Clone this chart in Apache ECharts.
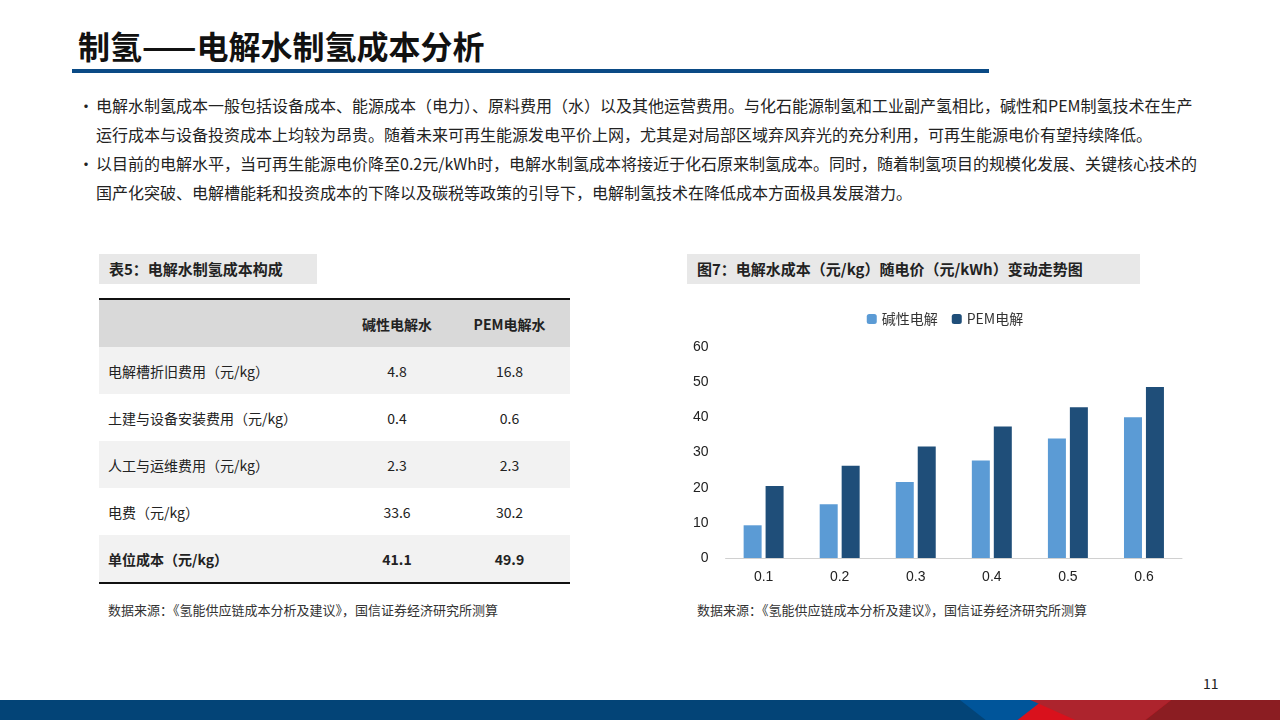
<!DOCTYPE html>
<html><head><meta charset="utf-8">
<script src="https://cdn.jsdelivr.net/npm/echarts@6/dist/echarts.min.js"></script>
<style>
body{margin:0;width:1280px;height:720px;position:relative;overflow:hidden;background:#fff;font-family:"Noto Sans CJK SC","Noto Sans",sans-serif;color:#222}
.abs{position:absolute}
h1{position:absolute;left:78px;top:22px;margin:0;font-size:32px;font-weight:bold;color:#111;letter-spacing:0}
.bul{left:78px;width:1130px;font-size:16px;line-height:29px;color:#222}
.bul div{padding-left:18px;position:relative}
.bul div span{position:absolute;left:0}
.cap{background:#e8e8e8;font-weight:bold;font-size:15px;height:30px;line-height:30px;padding-left:10px}
table{border-collapse:collapse;font-size:14px}
td{height:47px;padding:0}
.src{font-size:13px;color:#333}
</style></head><body>
<h1>制氢——电解水制氢成本分析</h1>
<div class="abs" style="left:72px;top:69px;width:917px;height:4px;background:#0a4a85"></div>
<div class="abs bul" style="top:91px">
<div><span>•</span>电解水制氢成本一般包括设备成本、能源成本（电力）、原料费用（水）以及其他运营费用。与化石能源制氢和工业副产氢相比，碱性和PEM制氢技术在生产运行成本与设备投资成本上均较为昂贵。随着未来可再生能源发电平价上网，尤其是对局部区域弃风弃光的充分利用，可再生能源电价有望持续降低。</div>
<div><span>•</span>以目前的电解水平，当可再生能源电价降至0.2元/kWh时，电解水制氢成本将接近于化石原来制氢成本。同时，随着制氢项目的规模化发展、关键核心技术的国产化突破、电解槽能耗和投资成本的下降以及碳税等政策的引导下，电解制氢技术在降低成本方面极具发展潜力。</div>
</div>
<div class="abs cap" style="left:99px;top:254px;width:208px">表5：电解水制氢成本构成</div>
<table class="abs" style="left:99px;top:298px;width:471px">
<tr style="background:#d9d9d9;border-top:2px solid #111;font-weight:bold"><td style="width:246px"></td><td style="text-align:center;width:104px">碱性电解水</td><td style="text-align:center">PEM电解水</td></tr>
<tr style="background:#f2f2f2"><td style="padding-left:9px">电解槽折旧费用（元/kg）</td><td align="center">4.8</td><td align="center">16.8</td></tr>
<tr><td style="padding-left:9px">土建与设备安装费用（元/kg）</td><td align="center">0.4</td><td align="center">0.6</td></tr>
<tr style="background:#f2f2f2"><td style="padding-left:9px">人工与运维费用（元/kg）</td><td align="center">2.3</td><td align="center">2.3</td></tr>
<tr><td style="padding-left:9px">电费（元/kg）</td><td align="center">33.6</td><td align="center">30.2</td></tr>
<tr style="background:#f2f2f2;font-weight:bold;border-bottom:2px solid #111"><td style="padding-left:9px">单位成本（元/kg）</td><td align="center">41.1</td><td align="center">49.9</td></tr>
</table>
<div class="abs src" style="left:108px;top:600px">数据来源：《氢能供应链成本分析及建议》，国信证券经济研究所测算</div>
<div class="abs cap" style="left:687px;top:254px;width:443px">图7：电解水成本（元/kg）随电价（元/kWh）变动走势图</div>
<div id="chart" class="abs" style="left:690px;top:298px;width:510px;height:302px"></div>
<div class="abs src" style="left:697px;top:600px">数据来源：《氢能供应链成本分析及建议》，国信证券经济研究所测算</div>
<div class="abs" style="left:1203px;top:673px;font-size:14px">11</div>
<div class="abs" style="left:0;top:700px;width:1280px;height:20px;background:#034477"></div>
<div class="abs" style="left:0;top:700px;width:1280px;height:20px;background:#00559a;clip-path:polygon(75% 0,97% 0,97% 100%,77% 100%)"></div>
<div class="abs" style="left:0;top:700px;width:1280px;height:20px;background:#0068b7;clip-path:polygon(84% 0,97% 0,97% 100%,86% 100%)"></div>
<div class="abs" style="left:0;top:700px;width:1280px;height:20px;background:#d9111c;clip-path:polygon(79.5% 100%,81.5% 0,100% 0,100% 100%)"></div>
<div class="abs" style="left:0;top:700px;width:1280px;height:20px;background:#ad242d;clip-path:polygon(80.5% 0,91.5% 0,89.5% 100%,84% 100%)"></div>
<div class="abs" style="left:0;top:700px;width:1280px;height:20px;background:#8b1d22;clip-path:polygon(91.5% 0,100% 0,100% 100%,89.5% 100%)"></div>
<script>
const categories = ['0.1', '0.2', '0.3', '0.4', '0.5', '0.6'];
const alkaline = [9.3, 15.3, 21.6, 27.7, 34.0, 40.0];
const pem = [20.5, 26.2, 31.7, 37.4, 42.9, 48.6];

const chart = echarts.init(document.getElementById('chart'));
chart.setOption({
  animation: false,
  textStyle: { fontFamily: 'Liberation Sans, Noto Sans CJK SC', color: '#222' },
  legend: {
    top: 9, left: 'center', itemWidth: 10, itemHeight: 10, itemGap: 14,
    textStyle: { fontSize: 14, color: '#333', fontFamily: 'Noto Sans CJK SC' },
    data: ['碱性电解', 'PEM电解']
  },
  grid: { left: 33, right: 18, top: 49, bottom: 42 },
  xAxis: {
    type: 'category', data: categories,
    axisLine: { lineStyle: { color: '#d0d0d0' } },
    axisTick: { show: false },
    axisLabel: { fontSize: 14, color: '#222', margin: 12 }
  },
  yAxis: {
    type: 'value', min: 0, max: 60, interval: 10,
    splitLine: { show: false },
    axisLabel: { fontSize: 14, color: '#222', margin: 17 }
  },
  series: [
    { name: '碱性电解', type: 'bar', data: alkaline, barWidth: 18, barGap: '22%', itemStyle: { color: '#5b9bd5' } },
    { name: 'PEM电解', type: 'bar', data: pem, barWidth: 18, itemStyle: { color: '#1f4e79' } }
  ]
});
</script>
</body></html>
